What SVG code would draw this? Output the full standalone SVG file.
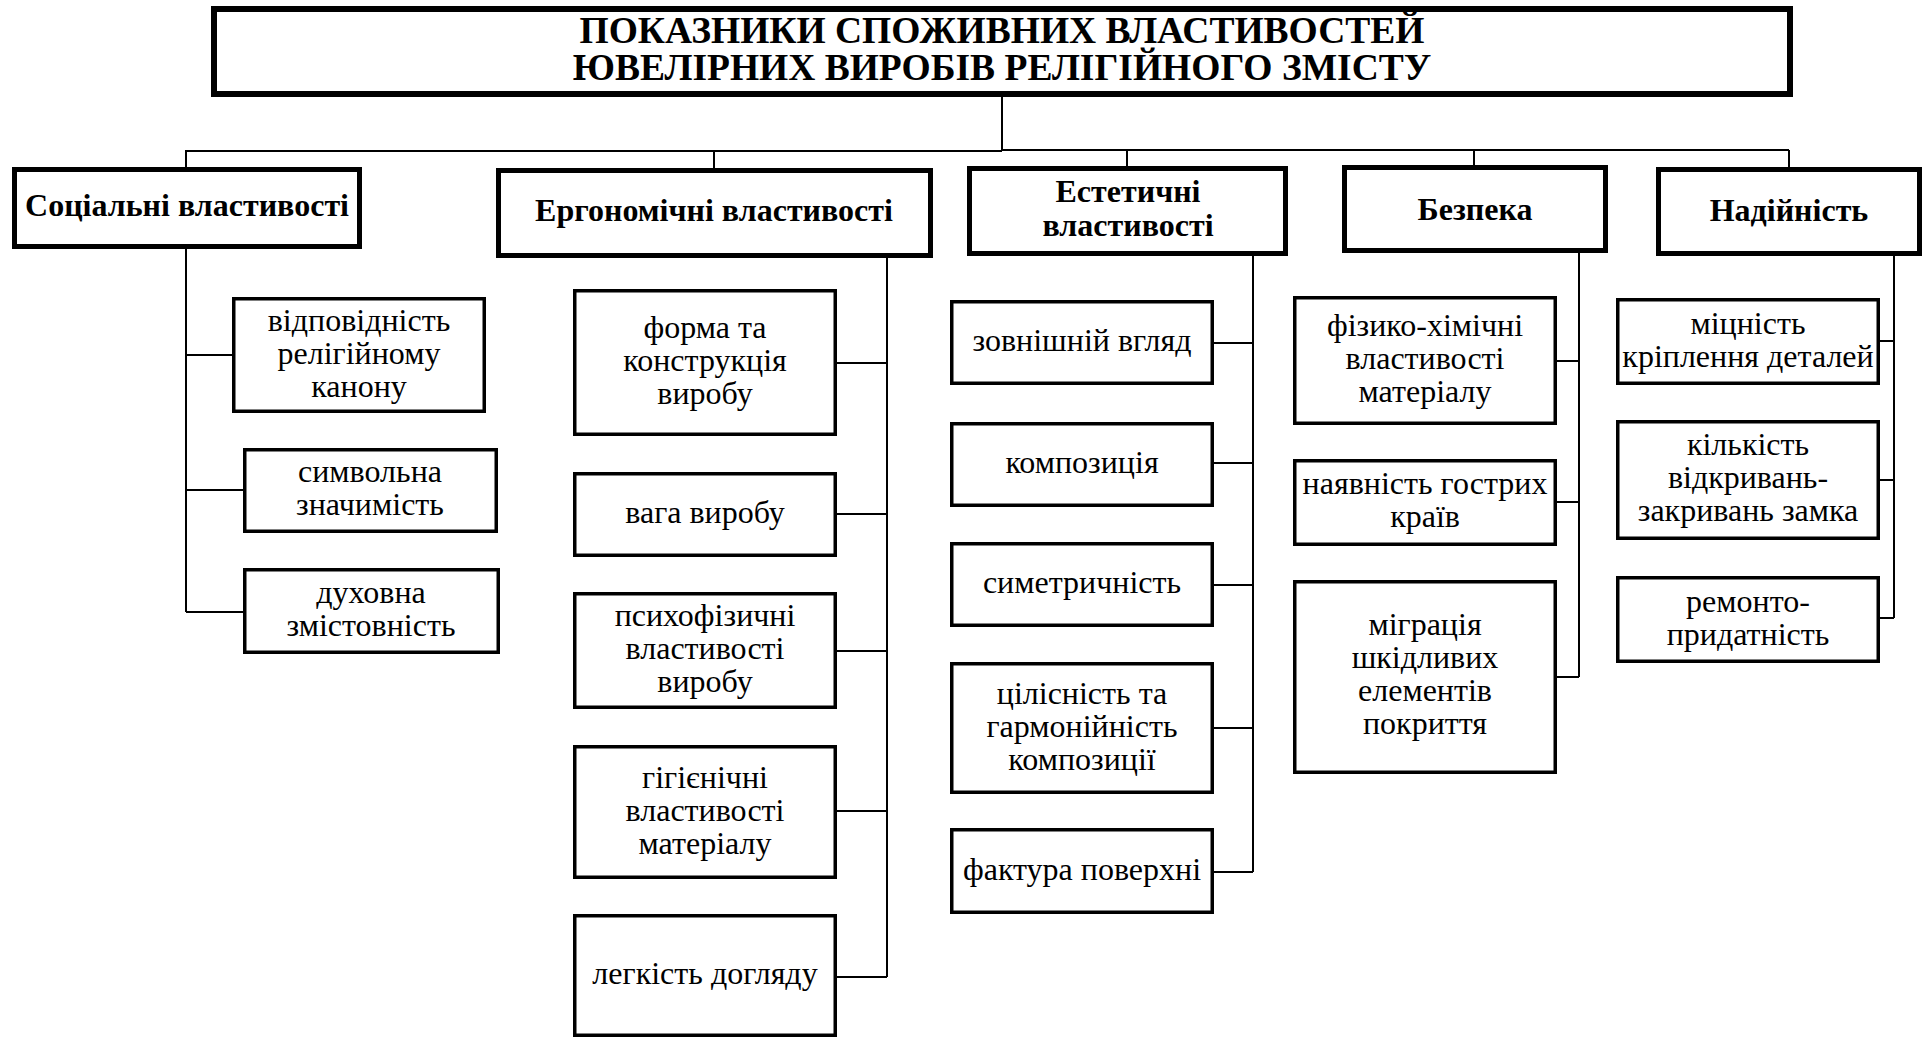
<svg xmlns="http://www.w3.org/2000/svg" width="1923" height="1038" viewBox="0 0 1923 1038">
<style>
.title{fill:#fff;stroke:#000;stroke-width:6}
.hdr{fill:#fff;stroke:#000;stroke-width:5}
.box{fill:#fff;stroke:#000;stroke-width:3.5}
.con{fill:none;stroke:#000;stroke-width:2}
text{font-family:"Liberation Serif","Times New Roman",serif;fill:#000;text-anchor:middle}
.tt{font-size:37.5px;font-weight:bold}
.ht{font-size:32px;font-weight:bold}
.ct{font-size:32px}
</style>
<rect x="0" y="0" width="1923" height="1038" fill="#fff"/>
<g id="connectors">
<path class="con" d="M1002 97V150M186 151H1002M1002 150H1789M186 150V167M714 150V168M1127 150V166M1474 150V165M1789 150V167"/>
<path class="con" d="M186 249V612M186 355H232M186 490H243M186 612H243"/>
<path class="con" d="M887 258V977M887 363H837M887 514H837M887 651H837M887 811H837M887 977H837"/>
<path class="con" d="M1253 256V872M1253 343H1214M1253 463H1214M1253 585H1214M1253 728H1214M1253 872H1214"/>
<path class="con" d="M1579 253V677M1579 361H1557M1579 502H1557M1579 677H1557"/>
<path class="con" d="M1894 256V618M1894 341H1880M1894 480H1880M1894 618H1880"/>
</g>
<g id="title">
<rect class="title" x="214" y="9" width="1576" height="85"/>
<text class="tt" x="1002" y="43">ПОКАЗНИКИ СПОЖИВНИХ ВЛАСТИВОСТЕЙ</text>
<text class="tt" x="1002" y="80">ЮВЕЛІРНИХ ВИРОБІВ РЕЛІГІЙНОГО ЗМІСТУ</text>
</g>
<g id="h-social">
<rect class="hdr" x="14.5" y="169.5" width="345" height="77"/>
<text class="ht" x="187" y="216">Соціальні властивості</text>
</g>
<g id="h-ergo">
<rect class="hdr" x="498.5" y="170.5" width="432" height="85"/>
<text class="ht" x="714" y="221">Ергономічні властивості</text>
</g>
<g id="h-aesth">
<rect class="hdr" x="969.5" y="168.5" width="316" height="85"/>
<text class="ht" x="1128" y="202">Естетичні</text>
<text class="ht" x="1128" y="236">властивості</text>
</g>
<g id="h-safety">
<rect class="hdr" x="1344.5" y="167.5" width="261" height="83"/>
<text class="ht" x="1475" y="220">Безпека</text>
</g>
<g id="h-reliab">
<rect class="hdr" x="1658.5" y="169.5" width="261" height="84"/>
<text class="ht" x="1789" y="221">Надійність</text>
</g>
<g id="s1"><rect class="box" x="233.75" y="298.75" width="250.5" height="112.5"/>
<text class="ct" x="359" y="331">відповідність</text><text class="ct" x="359" y="364">релігійному</text><text class="ct" x="359" y="397">канону</text></g>
<g id="s2"><rect class="box" x="244.75" y="449.75" width="251.5" height="81.5"/>
<text class="ct" x="370" y="482">символьна</text><text class="ct" x="370" y="515">значимість</text></g>
<g id="s3"><rect class="box" x="244.75" y="569.75" width="253.5" height="82.5"/>
<text class="ct" x="371" y="603">духовна</text><text class="ct" x="371" y="636">змістовність</text></g>
<g id="e1"><rect class="box" x="574.75" y="290.75" width="260.5" height="143.5"/>
<text class="ct" x="705" y="338">форма та</text><text class="ct" x="705" y="371">конструкція</text><text class="ct" x="705" y="404">виробу</text></g>
<g id="e2"><rect class="box" x="574.75" y="473.75" width="260.5" height="81.5"/>
<text class="ct" x="705" y="523">вага виробу</text></g>
<g id="e3"><rect class="box" x="574.75" y="593.75" width="260.5" height="113.5"/>
<text class="ct" x="705" y="626">психофізичні</text><text class="ct" x="705" y="659">властивості</text><text class="ct" x="705" y="692">виробу</text></g>
<g id="e4"><rect class="box" x="574.75" y="746.75" width="260.5" height="130.5"/>
<text class="ct" x="705" y="788">гігієнічні</text><text class="ct" x="705" y="821">властивості</text><text class="ct" x="705" y="854">матеріалу</text></g>
<g id="e5"><rect class="box" x="574.75" y="915.75" width="260.5" height="119.5"/>
<text class="ct" x="705" y="984">легкість догляду</text></g>
<g id="a1"><rect class="box" x="951.75" y="301.75" width="260.5" height="81.5"/>
<text class="ct" x="1082" y="351">зовнішній вгляд</text></g>
<g id="a2"><rect class="box" x="951.75" y="423.75" width="260.5" height="81.5"/>
<text class="ct" x="1082" y="473">композиція</text></g>
<g id="a3"><rect class="box" x="951.75" y="543.75" width="260.5" height="81.5"/>
<text class="ct" x="1082" y="593">симетричність</text></g>
<g id="a4"><rect class="box" x="951.75" y="663.75" width="260.5" height="128.5"/>
<text class="ct" x="1082" y="704">цілісність та</text><text class="ct" x="1082" y="737">гармонійність</text><text class="ct" x="1082" y="770">композиції</text></g>
<g id="a5"><rect class="box" x="951.75" y="829.75" width="260.5" height="82.5"/>
<text class="ct" x="1082" y="880">фактура поверхні</text></g>
<g id="sf1"><rect class="box" x="1294.75" y="297.75" width="260.5" height="125.5"/>
<text class="ct" x="1425" y="336">фізико-хімічні</text><text class="ct" x="1425" y="369">властивості</text><text class="ct" x="1425" y="402">матеріалу</text></g>
<g id="sf2"><rect class="box" x="1294.75" y="460.75" width="260.5" height="83.5"/>
<text class="ct" x="1425" y="494">наявність гострих</text><text class="ct" x="1425" y="527">країв</text></g>
<g id="sf3"><rect class="box" x="1294.75" y="581.75" width="260.5" height="190.5"/>
<text class="ct" x="1425" y="635">міграція</text><text class="ct" x="1425" y="668">шкідливих</text><text class="ct" x="1425" y="701">елементів</text><text class="ct" x="1425" y="734">покриття</text></g>
<g id="r1"><rect class="box" x="1617.75" y="299.75" width="260.5" height="83.5"/>
<text class="ct" x="1748" y="334">міцність</text><text class="ct" x="1748" y="367">кріплення деталей</text></g>
<g id="r2"><rect class="box" x="1617.75" y="421.75" width="260.5" height="116.5"/>
<text class="ct" x="1748" y="455">кількість</text><text class="ct" x="1748" y="488">відкривань-</text><text class="ct" x="1748" y="521">закривань замка</text></g>
<g id="r3"><rect class="box" x="1617.75" y="577.75" width="260.5" height="83.5"/>
<text class="ct" x="1748" y="612">ремонто-</text><text class="ct" x="1748" y="645">придатність</text></g>
</svg>
